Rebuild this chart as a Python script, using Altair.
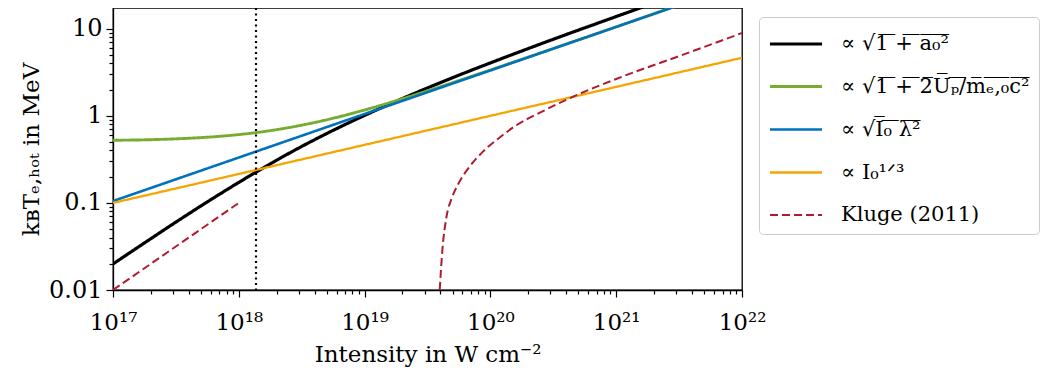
import altair as alt
import pandas as pd

# ---------------- data ----------------
black_I = [1e17, 1.778e17, 3.162e17, 5.623e17, 1e18, 1.778e18, 3.162e18, 5.623e18,
           1e19, 1.778e19, 3.162e19, 5.623e19, 1e20, 3.162e20, 1e21, 3.162e21, 1e22]
black_T = [0.0199, 0.0347, 0.0602, 0.1028, 0.172, 0.281, 0.445, 0.681,
           1.012, 1.468, 2.09, 2.93, 4.05, 7.57, 13.8, 25.0, 44.8]

green_I = [1e17, 1.778e17, 3.162e17, 5.623e17, 1e18, 1.778e18, 3.162e18, 5.623e18,
           1e19, 1.778e19, 3.162e19, 1e20, 3.162e20, 1e21, 3.162e21, 1e22]
green_T = [0.524, 0.530, 0.544, 0.568, 0.609, 0.676, 0.781, 0.938,
           1.167, 1.49, 1.935, 3.36, 5.93, 10.5, 18.7, 33.2]

blue_I = [1e17, 1e18, 1e19, 1e20, 1e21, 1e22]
blue_T = [0.105, 0.332, 1.05, 3.32, 10.5, 33.2]

orange_I = [1e17, 1e18, 1e19, 1e20, 1e21, 1e22]
orange_T = [0.100, 0.215, 0.464, 1.00, 2.15, 4.64]

kluge_low_I = [1e17, 1e18]
kluge_low_T = [0.010, 0.100]

kluge_high_I = [3.954e19, 4.15e19, 4.467e19, 4.95e19, 5.52e19, 6.92e19, 8.73e19,
                1.2e20, 1.61e20, 2.5e20, 4.14e20, 1e21, 3.162e21, 1e22]
kluge_high_T = [0.0100, 0.0285, 0.068, 0.115, 0.1625, 0.267, 0.388,
                0.572, 0.78, 1.095, 1.56, 2.65, 4.85, 8.93]

marker_I = [1.37e18]

NB = "\u00a0"


def over(s):
    return "".join(ch + "\u0305" for ch in s.replace(" ", NB))


series_names = [
    "∝ √" + over("1 + a₀²"),
    "∝ √" + over("1 + 2Uₚ/mₑ,₀c²"),
    "∝ √" + over("I₀ λ²"),
    "∝ I₀¹ᐟ³",
    "Kluge (2011)",
]
series_colors = ["#000000", "#77ac30", "#0072bd", "#f5a500", "#b01c2e"]
series_dash = [[1, 0], [1, 0], [1, 0], [1, 0], [8, 4]]
series_width = [3.2, 2.0, 2.0, 2.0, 2.0]

x_major = [1e17, 1e18, 1e19, 1e20, 1e21, 1e22]
x_major_labels = ["10¹⁷", "10¹⁸", "10¹⁹", "10²⁰", "10²¹", "10²²"]
y_major = [0.01, 0.1, 1, 10]
y_major_labels = ["0.01", "0.1", "1", "10"]

# ---------------- build table ----------------
rows = []


def add(I, T, name, seg):
    for i, t in zip(I, T):
        rows.append({"I": i, "T": t, "series": name, "seg": seg})


add(black_I, black_T, series_names[0], "a")
add(green_I, green_T, series_names[1], "b")
add(blue_I, blue_T, series_names[2], "c")
add(orange_I, orange_T, series_names[3], "d")
add(kluge_low_I, kluge_low_T, series_names[4], "e1")
add(kluge_high_I, kluge_high_T, series_names[4], "e2")
df = pd.DataFrame(rows)

x_minor = [round(m * 10 ** e, 0) for e in range(17, 22) for m in range(2, 10)]
x_vals = x_major + x_minor
y_minor = [round(m * 10.0 ** e, 6) for e in range(-2, 1) for m in range(2, 10)]
y_vals = y_major + y_minor


def label_expr(values, labels):
    expr = "''"
    for v, l in reversed(list(zip(values, labels))):
        expr = f"datum.value == {v!r} ? '{l}' : ({expr})"
    return expr


def major_test(values):
    return " || ".join(f"datum.value == {v!r}" for v in values)


FONT = "DejaVu Serif"

x_axis = alt.Axis(
    values=x_vals,
    labelExpr=label_expr(x_major, x_major_labels),
    tickSize={"condition": {"test": major_test(x_major), "value": 7}, "value": 4},
    tickWidth=1.2,
    tickColor="black",
    grid=False,
    title="Intensity in W cm⁻²",
    titleFont=FONT, titleFontSize=23, titleFontWeight="normal", titleColor="black",
    titlePadding=9,
    labelFont=FONT, labelFontSize=23, labelColor="black",
    labelFlush=False, labelOverlap=False, labelPadding=14,
    domainColor="black", domainWidth=1.3,
)
y_axis = alt.Axis(
    values=y_vals,
    labelExpr=label_expr(y_major, y_major_labels),
    tickSize={"condition": {"test": major_test(y_major), "value": 7}, "value": 4},
    tickWidth=1.2,
    tickColor="black",
    grid=False,
    title="kʙTₑ,ₕₒₜ in MeV",
    titleFont=FONT, titleFontSize=23, titleFontWeight="normal", titleColor="black",
    titlePadding=5,
    labelFont=FONT, labelFontSize=24, labelColor="black",
    labelFlush=False, labelOverlap=False, labelPadding=4,
    domainColor="black", domainWidth=1.3,
)

legend = alt.Legend(
    title=None,
    orient="none",
    legendX=646,
    legendY=9,
    symbolType="M-1,0H2.25",
    symbolSize=1024,
    symbolOffset=0,
    labelFont=FONT,
    labelFontSize=21,
    labelColor="black",
    labelOffset=37,
    labelLimit=600,
    rowPadding=15,
    padding=9,
    cornerRadius=4,
    strokeColor="#cccccc",
    fillColor="white",
)

xs = alt.Scale(type="log", domain=[1e17, 1e22], nice=False)
ys = alt.Scale(type="log", domain=[0.01, 17.3], nice=False)

lines = alt.Chart(df).mark_line(clip=True, interpolate="monotone").encode(
    x=alt.X("I:Q", scale=xs, axis=x_axis),
    y=alt.Y("T:Q", scale=ys, axis=y_axis),
    color=alt.Color("series:N", scale=alt.Scale(domain=series_names, range=series_colors),
                    legend=legend, sort=series_names),
    strokeDash=alt.StrokeDash("series:N", scale=alt.Scale(domain=series_names, range=series_dash),
                              legend=legend, sort=series_names),
    strokeWidth=alt.StrokeWidth("series:N", scale=alt.Scale(domain=series_names, range=series_width),
                                legend=legend, sort=series_names),
    detail="seg:N",
    order="I:Q",
)

vline = alt.Chart(pd.DataFrame({"I": marker_I})).mark_rule(
    color="black", strokeWidth=2.2, strokeDash=[2, 3.5]
).encode(x=alt.X("I:Q", scale=xs))

chart = alt.layer(lines, vline).properties(
    width=629,
    height=282,
    autosize=alt.AutoSizeParams(type="none"),
    padding={"left": 105, "top": 0, "right": 307, "bottom": 80},
).configure_view(stroke="black", strokeWidth=1.3)

chart.save("out.html", embed_options={"renderer": "svg", "actions": False})
